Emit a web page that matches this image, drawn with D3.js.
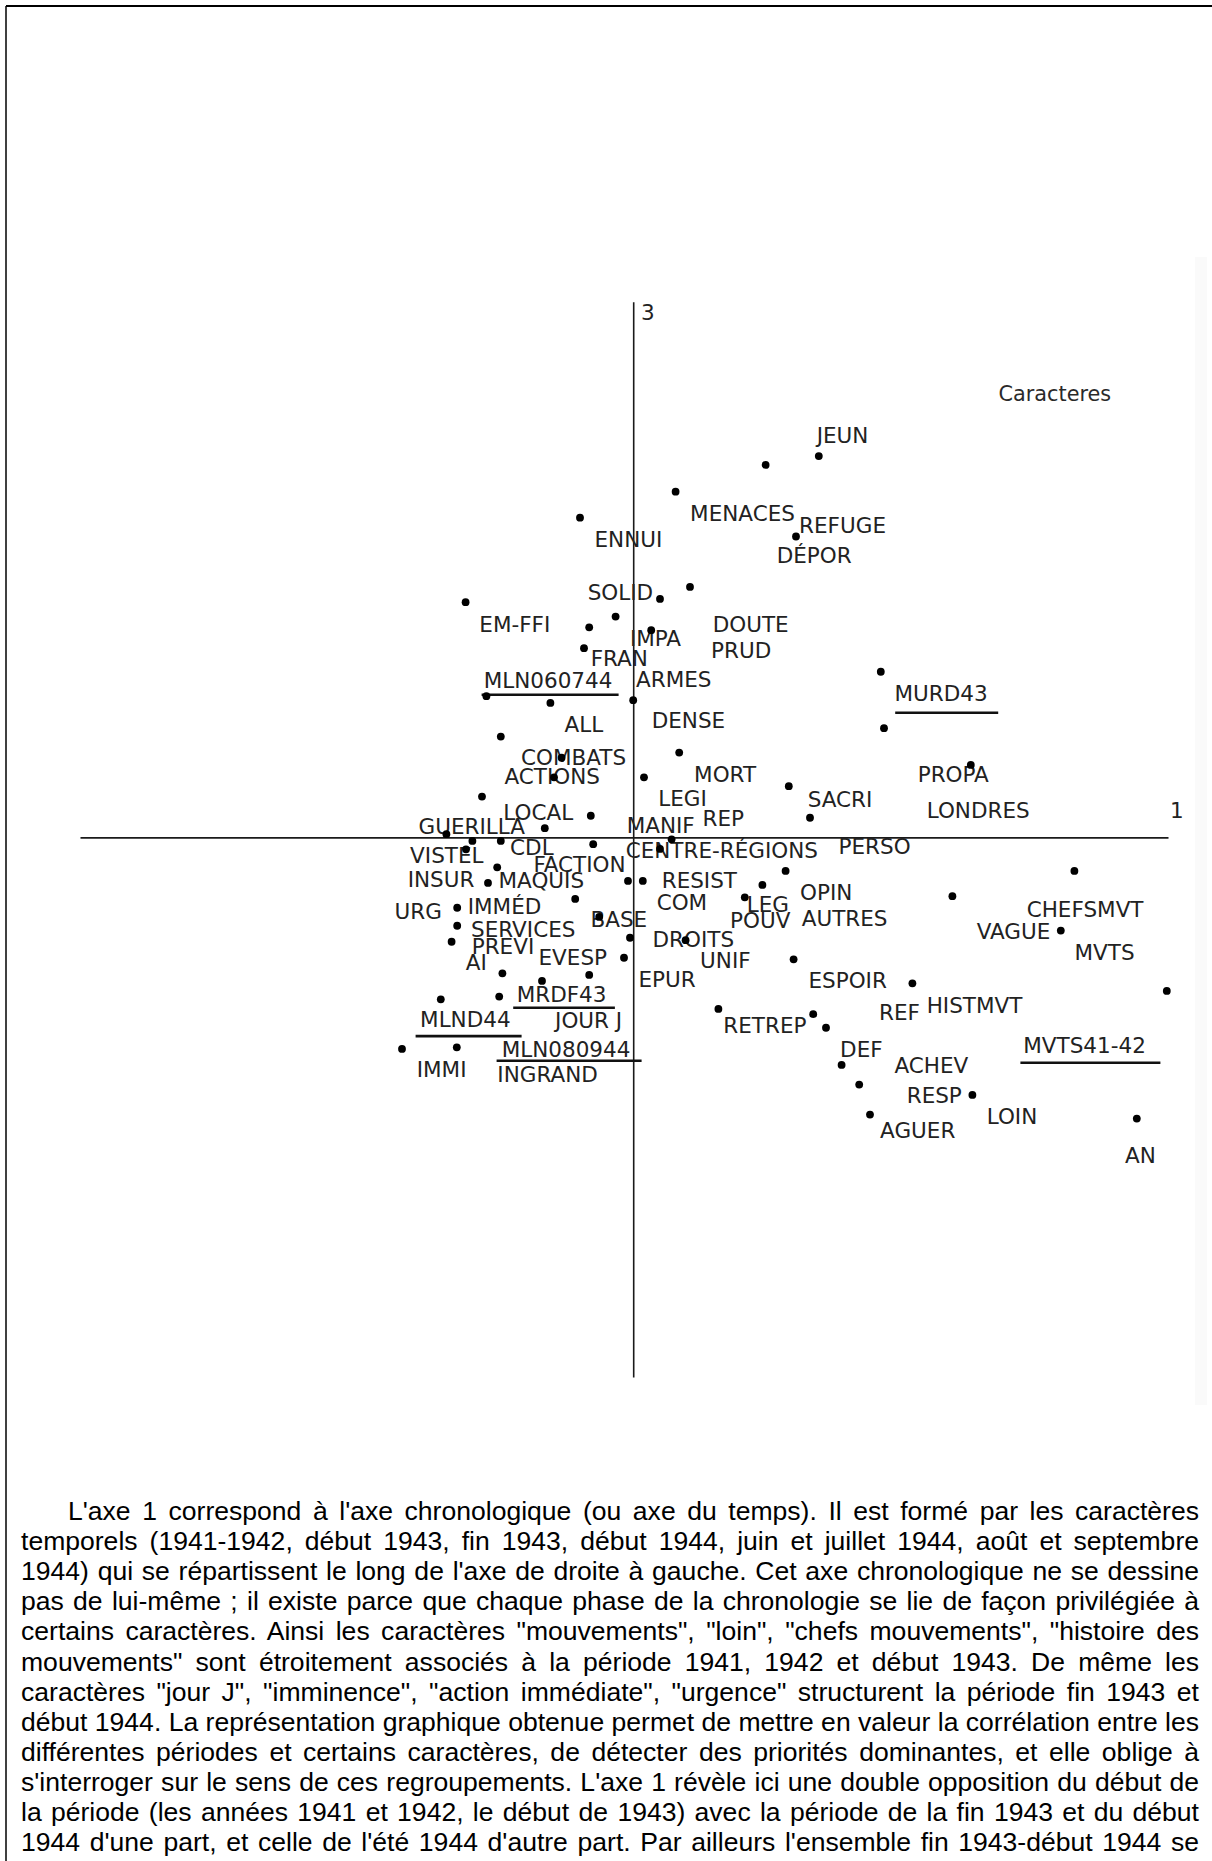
<!DOCTYPE html>
<html>
<head>
<meta charset="utf-8">
<script src="https://cdn.jsdelivr.net/npm/d3@7"></script>
<style>
  html, body { margin: 0; padding: 0; background: #ffffff; }
  svg { display: block; }
</style>
</head>
<body>
<svg id="chart" width="1212" height="1861"></svg>
<script>
// ---- Character points: coordinates on factorial axis 1 (horizontal) and axis 3 (vertical)
const pointAxis1 = [
  0.331, 0.106, 0.464, 0.407, -0.133, 0.142, 0.067, -0.419, -0.044, -0.110,
  0.045, -0.123, 0.619, -0.367, 0.000, -0.207, 0.627, -0.331, 0.115, -0.179,
  0.844, -0.198, 0.027, 0.389, -0.378, -0.106, 0.442, -0.221, -0.467, -0.402,
  -0.331, -0.100, 0.096, -0.418, 0.067, -0.340, 0.381, 1.103, -0.363, -0.013,
  0.024, 0.323, -0.145, 0.279, 0.798, -0.440, -0.085, -0.440, 1.069, -0.008,
  0.131, -0.454, -0.023, 0.401, -0.327, -0.110, -0.228, 0.698, 1.334, -0.335,
  -0.481, 0.213, 0.450, 0.482, -0.578, -0.441, 0.521, 0.565, 0.848, 0.592,
  1.259
];
const pointAxis3 = [
  0.931, 0.864, 0.953, 0.752, 0.799, 0.626, 0.596, 0.588, 0.552, 0.525,
  0.518, 0.473, 0.414, 0.353, 0.343, 0.336, 0.273, 0.252, 0.212, 0.199,
  0.181, 0.150, 0.150, 0.128, 0.102, 0.054, 0.049, 0.023, 0.008, -0.009,
  -0.009, -0.017, -0.005, -0.030, -0.029, -0.075, -0.084, -0.084, -0.114, -0.109,
  -0.109, -0.119, -0.154, -0.150, -0.147, -0.176, -0.199, -0.221, -0.233, -0.251,
  -0.257, -0.261, -0.301, -0.305, -0.340, -0.344, -0.359, -0.365, -0.384, -0.398,
  -0.405, -0.429, -0.442, -0.476, -0.529, -0.525, -0.569, -0.618, -0.644, -0.693,
  -0.703
];

// ---- Labels of the characters and periods, anchored at their left baseline
const labelNames = [
  "JEUN", "MENACES", "REFUGE", "ENNUI", "DÉPOR", "SOLID", "EM-FFI", "DOUTE", "IMPA", "PRUD",
  "FRAN", "MLN060744", "ARMES", "MURD43", "DENSE", "ALL", "COMBATS", "MORT", "PROPA", "ACTIONS",
  "LEGI", "SACRI", "LONDRES", "LOCAL", "REP", "MANIF", "GUERILLA", "PERSO", "CDL", "CENTRE-RÉGIONS",
  "VISTEL", "FACTION", "RESIST", "INSUR", "MAQUIS", "OPIN", "COM", "LEG", "IMMÉD", "CHEFSMVT",
  "URG", "AUTRES", "BASE", "POUV", "SERVICES", "VAGUE", "DROITS", "PREVI", "MVTS", "EVESP",
  "UNIF", "AI", "EPUR", "ESPOIR", "MRDF43", "HISTMVT", "REF", "MLND44", "JOUR J", "RETREP",
  "MVTS41-42", "MLN080944", "DEF", "ACHEV", "IMMI", "INGRAND", "RESP", "LOIN", "AGUER", "AN"
];
const labelAxis1 = [
  0.4625, 0.146, 0.4185, -0.093, 0.3625, -0.110, -0.381, 0.2025, -0.0045, 0.1985,
  -0.1025, -0.370, 0.011, 0.657, 0.050, -0.168, -0.2765, 0.156, 0.715, -0.318,
  0.0665, 0.440, 0.7375, -0.321, 0.177, -0.0125, -0.533, 0.517, -0.304, -0.015,
  -0.554, -0.2458, 0.075, -0.560, -0.333, 0.421, 0.0625, 0.2875, -0.410, 0.9875,
  -0.593, 0.425, -0.103, 0.246, -0.4015, 0.8625, 0.052, -0.400, 1.107, -0.233,
  0.171, -0.415, 0.017, 0.442, -0.2875, 0.7375, 0.6185, -0.529, -0.1915, 0.229,
  0.979, -0.325, 0.521, 0.657, -0.5375, -0.336, 0.6875, 0.8875, 0.621, 1.2335
];
const labelAxis3 = [
  0.985, 0.7915, 0.760, 0.7265, 0.685, 0.593, 0.514, 0.514, 0.479, 0.449,
  0.429, 0.374, 0.3765, 0.3415, 0.2725, 0.264, 0.181, 0.139, 0.139, 0.1325,
  0.078, 0.0765, 0.0475, 0.043, 0.029, 0.0115, 0.0075, -0.0425, -0.044, -0.0525,
  -0.065, -0.086, -0.126, -0.1235, -0.1275, -0.157, -0.182, -0.186, -0.192, -0.1985,
  -0.204, -0.222, -0.2235, -0.2275, -0.2485, -0.253, -0.275, -0.292, -0.307, -0.319,
  -0.3275, -0.332, -0.3735, -0.3775, -0.412, -0.440, -0.457, -0.4735, -0.4775, -0.489,
  -0.540, -0.5485, -0.5485, -0.590, -0.5985, -0.6125, -0.6635, -0.717, -0.7525, -0.815
];

// ---- Underlines marking the period (supplementary) labels
const underlineNames = ["MLN060744", "MURD43", "MRDF43", "MLND44", "MLN080944", "MVTS41-42"];
const underlineFrom  = [-0.379, 0.655, -0.300, -0.544, -0.3415, 0.968];
const underlineTo    = [-0.0365, 0.9125, -0.0458, -0.279, 0.021, 1.318];
const underlineAxis3 = [0.3565, 0.3115, -0.426, -0.497, -0.5585, -0.5635];

// ---- Axis names and chart title
const axisNames = ["1", "3"];
const axisNameAxis1 = [1.346, 0.0235];
const axisNameAxis3 = [0.0475, 1.293];
const chartTitle = "Caracteres";
const titleAxis1 = 0.917, titleAxis3 = 1.0915;

// ---- Commentary under the chart, one entry per printed line
const paragraphLines = [
  "L'axe 1 correspond à l'axe chronologique (ou axe du temps). Il est formé par les caractères",
  "temporels (1941-1942, début 1943, fin 1943, début 1944, juin et juillet 1944, août et septembre",
  "1944) qui se répartissent le long de l'axe de droite à gauche. Cet axe chronologique ne se dessine",
  "pas de lui-même ; il existe parce que chaque phase de la chronologie se lie de façon privilégiée à",
  "certains caractères. Ainsi les caractères \"mouvements\", \"loin\", \"chefs mouvements\", \"histoire des",
  "mouvements\" sont étroitement associés à la période 1941, 1942 et début 1943. De même les",
  "caractères \"jour J\", \"imminence\", \"action immédiate\", \"urgence\" structurent la période fin 1943 et",
  "début 1944. La représentation graphique obtenue permet de mettre en valeur la corrélation entre les",
  "différentes périodes et certains caractères, de détecter des priorités dominantes, et elle oblige à",
  "s'interroger sur le sens de ces regroupements. L'axe 1 révèle ici une double opposition du début de",
  "la période (les années 1941 et 1942, le début de 1943) avec la période de la fin 1943 et du début",
  "1944 d'une part, et celle de l'été 1944 d'autre part. Par ailleurs l'ensemble fin 1943-début 1944 se"
];

// ---------------------------------------------------------------------------
const svg = d3.select("#chart");
const W = 1212, H = 1861;

// Page frame (top and left rules)
svg.append("line").attr("x1", 6).attr("x2", W).attr("y1", 6).attr("y2", 6)
  .attr("stroke", "#000").attr("stroke-width", 2);
svg.append("line").attr("x1", 6).attr("x2", 6).attr("y1", 6).attr("y2", H)
  .attr("stroke", "#000").attr("stroke-width", 1.5);

// faint edge of the pasted plot
svg.append("rect").attr("x", 1195).attr("y", 257).attr("width", 12).attr("height", 1148)
  .attr("fill", "#fafafa");

// Scales: 1 unit = 400 px on both axes
const x = d3.scaleLinear().domain([-1.383, 1.337]).range([80, 1168]);
const y = d3.scaleLinear().domain([-1.349, 1.339]).range([1377, 301.7]);

// Axes through the origin, drawn without ticks
svg.append("g")
  .attr("transform", `translate(0,${y(0)})`)
  .call(d3.axisBottom(x).tickValues([]).tickSizeOuter(0))
  .call(g => g.select(".domain").attr("stroke", "#1a1a1a").attr("stroke-width", 1.6));
svg.append("g")
  .attr("transform", `translate(${x(0)},0)`)
  .call(d3.axisLeft(y).tickValues([]).tickSizeOuter(0))
  .call(g => g.select(".domain").attr("stroke", "#1a1a1a").attr("stroke-width", 1.6));

const labelFont = "'DejaVu Sans', Verdana, sans-serif";
const labelSize = 21.5;
const ink = "#222";

// Axis names
svg.append("g").selectAll("text")
  .data(axisNames)
  .join("text")
  .attr("x", (d, i) => x(axisNameAxis1[i]) - 1.5)
  .attr("y", (d, i) => y(axisNameAxis3[i]))
  .attr("font-family", labelFont).attr("font-size", labelSize).attr("fill", ink)
  .text(d => d);

// Title of the plotted set
svg.append("text")
  .attr("x", x(titleAxis1) - 1.5).attr("y", y(titleAxis3))
  .attr("font-family", labelFont).attr("font-size", 20.8).attr("fill", "#2a2a2a")
  .text(chartTitle);

// Labels
svg.append("g").selectAll("text")
  .data(labelNames)
  .join("text")
  .attr("x", (d, i) => x(labelAxis1[i]) - 1.5)
  .attr("y", (d, i) => y(labelAxis3[i]))
  .attr("font-family", labelFont).attr("font-size", labelSize).attr("fill", ink)
  .text(d => d);

// Underlines of period labels
svg.append("g").selectAll("line")
  .data(underlineNames)
  .join("line")
  .attr("x1", (d, i) => x(underlineFrom[i]))
  .attr("x2", (d, i) => x(underlineTo[i]))
  .attr("y1", (d, i) => y(underlineAxis3[i]))
  .attr("y2", (d, i) => y(underlineAxis3[i]))
  .attr("stroke", "#111").attr("stroke-width", 2.6);

// Points
svg.append("g").selectAll("circle")
  .data(pointAxis1)
  .join("circle")
  .attr("cx", (d, i) => x(d))
  .attr("cy", (d, i) => y(pointAxis3[i]))
  .attr("r", 3.9)
  .attr("fill", "#000");

// Commentary, justified line by line.
// The font size is the largest one at which every printed line still fits its width.
const paraLeft = 21, paraRight = 1199, paraIndent = 68;
const paraTop = 1520, paraStep = 30.1;
const para = svg.append("g")
  .attr("font-family", "'Liberation Sans', Arial, sans-serif")
  .attr("fill", "#000");
const probe = para.append("text").attr("font-size", 100);
let paraSize = 40;
paragraphLines.forEach((line, i) => {
  const left = i === 0 ? paraIndent : paraLeft;
  probe.text(line);
  const w100 = probe.node().getComputedTextLength();
  paraSize = Math.min(paraSize, 100 * (paraRight - left) / w100);
});
probe.remove();
para.attr("font-size", paraSize);
paragraphLines.forEach((line, i) => {
  const left = i === 0 ? paraIndent : paraLeft;
  const t = para.append("text")
    .attr("x", left)
    .attr("y", paraTop + i * paraStep)
    .text(line);
  const natural = t.node().getComputedTextLength();
  const gaps = (line.match(/ /g) || []).length;
  if (gaps > 0) {
    t.attr("word-spacing", ((paraRight - left) - natural) / gaps);
  }
});
</script>
</body>
</html>
